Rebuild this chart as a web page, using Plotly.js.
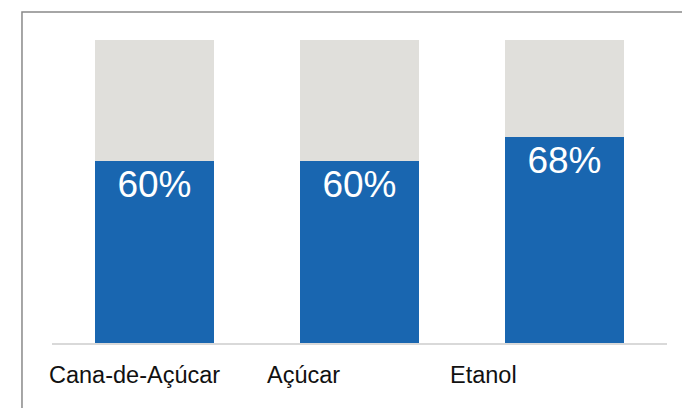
<!DOCTYPE html>
<html>
<head>
<meta charset="utf-8">
<script src="https://cdn.plot.ly/plotly-3.0.1.min.js"></script>
<style>html,body{margin:0;padding:0;background:#fff;}#chart{width:682px;height:408px;}</style>
</head>
<body>
<div id="chart"></div>
<script>
const categories = ["Cana-de-Açúcar", "Açúcar", "Etanol"];
const shareValues = [0.60, 0.60, 0.68];
const restValues = [0.40, 0.40, 0.32];
const valueLabels = ["60%", "60%", "68%"];

const labelOffsets = [-0.524, -0.461, -0.570];

const traces = [
  {
    type: "bar",
    x: [0, 1, 2],
    y: shareValues,
    text: valueLabels,
    textposition: "inside",
    insidetextanchor: "end",
    constraintext: "none",
    textfont: {family: "Liberation Sans, Arial, sans-serif", size: 37, color: "#ffffff"},
    marker: {color: "#1966B0"},
    hoverinfo: "none"
  },
  {
    type: "bar",
    x: [0, 1, 2],
    y: restValues,
    marker: {color: "#E0DFDB"},
    hoverinfo: "none"
  }
];

const nCat = categories.length;
const annotations = categories.map((c, i) => ({
  x: (i + labelOffsets[i] + 0.5) / nCat,
  xref: "paper",
  y: -0.106,
  yref: "paper",
  xanchor: "left",
  yanchor: "middle",
  text: c,
  showarrow: false,
  font: {family: "Liberation Sans, Arial, sans-serif", size: 23.5, color: "#111111"}
}));

const layout = {
  width: 682,
  height: 408,
  margin: {l: 52, r: 15, t: 40, b: 65, pad: 0},
  barmode: "stack",
  bargap: 0.415,
  showlegend: false,
  paper_bgcolor: "#ffffff",
  plot_bgcolor: "#ffffff",
  xaxis: {
    range: [-0.5, 2.5],
    showticklabels: false,
    showgrid: false,
    zeroline: false,
    showline: true,
    linecolor: "#D9D9D9",
    linewidth: 2,
    ticks: ""
  },
  yaxis: {
    range: [0, 1],
    visible: false,
    showgrid: false,
    zeroline: false
  },
  annotations: annotations,
  shapes: [{
    type: "rect",
    xref: "paper", yref: "paper",
    x0: -0.0488, x1: 1.2,
    y0: -0.4, y1: 1.0924,
    line: {color: "#898989", width: 1.5},
    fillcolor: "rgba(0,0,0,0)",
    layer: "above"
  }]
};

Plotly.newPlot("chart", traces, layout, {displayModeBar: false, staticPlot: true});
</script>
</body>
</html>
